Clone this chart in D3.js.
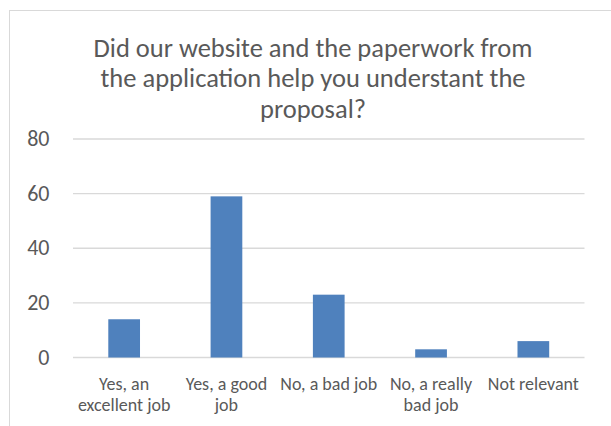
<html>
<head>
<script src="https://d3js.org/d3.v7.min.js"></script>
<style>
  body { margin: 0; background: #fff; }
  text { font-family: Carlito, Calibri, Lato, sans-serif; fill: #595959; }
</style>
</head>
<body>
<svg width="611" height="426"></svg>
<script>
const categories = [["Yes, an", "excellent job"], ["Yes, a good", "job"], ["No, a bad job"], ["No, a really", "bad job"], ["Not relevant"]];
const values = [14, 59, 23, 3, 6];
const yTicks = [0, 20, 40, 60, 80];
const titleLines = ["Did our website and the paperwork from", "the application help you understant the", "proposal?"];

const svg = d3.select("svg");

// chart border (runs off the right/bottom edge)
svg.append("rect")
  .attr("x", 9.5).attr("y", 10.5)
  .attr("width", 620).attr("height", 430)
  .attr("fill", "#fff").attr("stroke", "#d9d9d9");

const x = d3.scaleBand().domain(d3.range(values.length)).range([73, 584.5]).paddingInner(0.69).paddingOuter(0.345);
const y = d3.scaleLinear().domain([0, 80]).range([357.5, 139]);

// gridlines
svg.append("g")
  .selectAll("line")
  .data(yTicks)
  .join("line")
  .attr("x1", 73).attr("x2", 584.5)
  .attr("y1", d => y(d)).attr("y2", d => y(d))
  .attr("stroke", "#d9d9d9").attr("stroke-width", 1.3);

// y labels
svg.append("g")
  .selectAll("text")
  .data(yTicks)
  .join("text")
  .attr("x", 49.5).attr("y", d => y(d) + 7)
  .attr("text-anchor", "end")
  .style("font-size", "22px")
  .text(d => d);

// bars
svg.append("g")
  .selectAll("rect")
  .data(values)
  .join("rect")
  .attr("x", (d, i) => x(i))
  .attr("width", x.bandwidth())
  .attr("y", d => y(d))
  .attr("height", d => y(0) - y(d))
  .attr("fill", "#4f81bd");

// category labels, one text per line
const catLines = categories.flatMap((lines, i) => lines.map((t, j) => ({ t, i, j })));
svg.append("g")
  .selectAll("text")
  .data(catLines)
  .join("text")
  .attr("text-anchor", "middle")
  .style("font-size", "18px")
  .attr("x", d => x(d.i) + x.bandwidth() / 2)
  .attr("y", d => 390 + d.j * 21)
  .text(d => d.t);

// title
svg.append("g")
  .selectAll("text")
  .data(titleLines)
  .join("text")
  .attr("x", 313).attr("y", (d, i) => 56.5 + i * 30.8)
  .attr("text-anchor", "middle")
  .style("font-size", "26.5px")
  .text(d => d);
</script>
</body>
</html>
